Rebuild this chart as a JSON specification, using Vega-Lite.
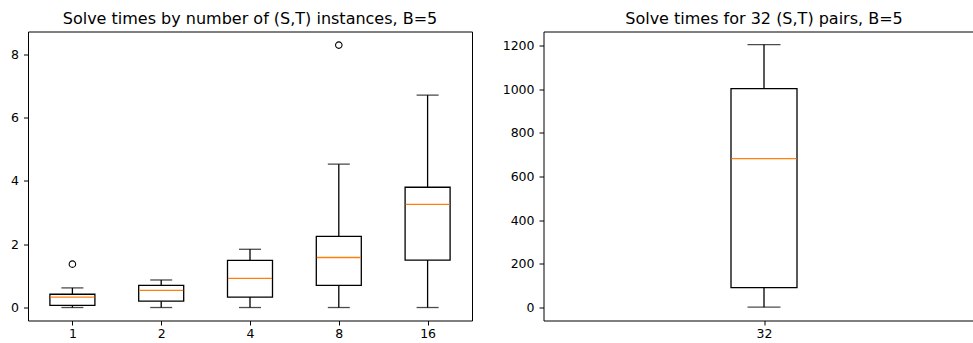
{
  "$schema": "https://vega.github.io/schema/vega-lite/v6.json",
  "padding": {"left": 10, "top": 9.5, "right": 0, "bottom": 0},
  "spacing": 28.5,
  "background": "#ffffff",
  "config": {
    "view": {"stroke": "#000000", "strokeWidth": 1},
    "font": "DejaVu Sans",
    "title": {"fontSize": 16, "fontWeight": "normal", "color": "#000000", "font": "DejaVu Sans", "offset": 5, "anchor": "middle"},
    "axis": {"domain": false, "grid": false, "ticks": true, "tickColor": "#000000", "tickSize": 4.5, "tickWidth": 1, "labelFont": "DejaVu Sans", "labelFontSize": 12.5, "labelColor": "#000000", "labelPadding": 5, "title": null},
    "axisX": {"labelPadding": 2.5}
  },
  "datasets": {
    "left": [
      {"n": "1", "low": 0, "q1": 0.07, "median": 0.33, "q3": 0.42, "high": 0.62},
      {"n": "2", "low": 0, "q1": 0.2, "median": 0.54, "q3": 0.7, "high": 0.87},
      {"n": "4", "low": 0, "q1": 0.33, "median": 0.92, "q3": 1.49, "high": 1.84},
      {"n": "8", "low": 0, "q1": 0.7, "median": 1.58, "q3": 2.25, "high": 4.53},
      {"n": "16", "low": 0, "q1": 1.5, "median": 3.26, "q3": 3.8, "high": 6.71}
    ],
    "leftOut": [
      {"n": "1", "value": 1.37},
      {"n": "8", "value": 8.29}
    ],
    "right": [
      {"n": "32", "low": 0, "q1": 90, "median": 682, "q3": 1004, "high": 1206}
    ]
  },
  "hconcat": [
    {
      "title": "Solve times by number of (S,T) instances, B=5",
      "width": 444,
      "height": 289,
      "layer": [
        {
          "data": {"name": "left"},
          "mark": {"type": "rule", "color": "#000000", "strokeWidth": 1.3},
          "encoding": {
            "x": {"field": "n", "type": "ordinal", "scale": {"type": "point", "padding": 0.5, "domain": ["1", "2", "4", "8", "16"]}, "axis": {"labelAngle": 0}},
            "y": {"field": "low", "type": "quantitative", "scale": {"domain": [-0.41, 8.72], "nice": false, "zero": false}, "axis": {"values": [0, 2, 4, 6, 8]}},
            "y2": {"field": "high"}
          }
        },
        {
          "data": {"name": "left"},
          "mark": {"type": "tick", "color": "#000000", "size": 22, "thickness": 1.3},
          "encoding": {
            "x": {"field": "n", "type": "ordinal"},
            "y": {"field": "low", "type": "quantitative"}
          }
        },
        {
          "data": {"name": "left"},
          "mark": {"type": "tick", "color": "#000000", "size": 22, "thickness": 1.3},
          "encoding": {
            "x": {"field": "n", "type": "ordinal"},
            "y": {"field": "high", "type": "quantitative"}
          }
        },
        {
          "data": {"name": "left"},
          "mark": {"type": "bar", "fill": "#ffffff", "stroke": "#000000", "strokeWidth": 1.3, "size": 45},
          "encoding": {
            "x": {"field": "n", "type": "ordinal"},
            "y": {"field": "q1", "type": "quantitative"},
            "y2": {"field": "q3"}
          }
        },
        {
          "data": {"name": "left"},
          "mark": {"type": "tick", "color": "#ff7f0e", "size": 44, "thickness": 1.3, "opacity": 1},
          "encoding": {
            "x": {"field": "n", "type": "ordinal"},
            "y": {"field": "median", "type": "quantitative"}
          }
        },
        {
          "data": {"name": "leftOut"},
          "mark": {"type": "point", "shape": "circle", "filled": false, "stroke": "#000000", "strokeWidth": 1.1, "size": 42, "opacity": 1},
          "encoding": {
            "x": {"field": "n", "type": "ordinal"},
            "y": {"field": "value", "type": "quantitative"}
          }
        }
      ]
    },
    {
      "title": "Solve times for 32 (S,T) pairs, B=5",
      "width": 441,
      "height": 289,
      "data": {"name": "right"},
      "layer": [
        {
          "mark": {"type": "rule", "color": "#000000", "strokeWidth": 1.3},
          "encoding": {
            "x": {"field": "n", "type": "ordinal", "scale": {"type": "point", "padding": 0.5, "domain": ["32"]}, "axis": {"labelAngle": 0}},
            "y": {"field": "low", "type": "quantitative", "scale": {"domain": [-61, 1266], "nice": false, "zero": false}, "axis": {"values": [0, 200, 400, 600, 800, 1000, 1200], "format": "d"}},
            "y2": {"field": "high"}
          }
        },
        {
          "mark": {"type": "tick", "color": "#000000", "size": 33, "thickness": 1.3},
          "encoding": {
            "x": {"field": "n", "type": "ordinal"},
            "y": {"field": "low", "type": "quantitative"}
          }
        },
        {
          "mark": {"type": "tick", "color": "#000000", "size": 33, "thickness": 1.3},
          "encoding": {
            "x": {"field": "n", "type": "ordinal"},
            "y": {"field": "high", "type": "quantitative"}
          }
        },
        {
          "mark": {"type": "bar", "fill": "#ffffff", "stroke": "#000000", "strokeWidth": 1.3, "size": 66},
          "encoding": {
            "x": {"field": "n", "type": "ordinal"},
            "y": {"field": "q1", "type": "quantitative"},
            "y2": {"field": "q3"}
          }
        },
        {
          "mark": {"type": "tick", "color": "#ff7f0e", "size": 65, "thickness": 1.3, "opacity": 1},
          "encoding": {
            "x": {"field": "n", "type": "ordinal"},
            "y": {"field": "median", "type": "quantitative"}
          }
        }
      ]
    }
  ]
}
